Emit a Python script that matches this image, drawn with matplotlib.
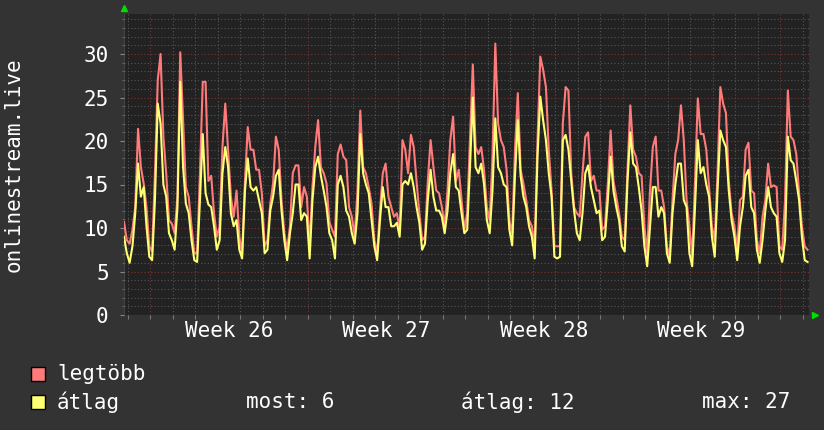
import matplotlib
matplotlib.use("Agg")
import matplotlib.pyplot as plt
from matplotlib.patches import Rectangle
import numpy as np

# ---- data (3-hourly samples, x in days from chart start) ----
step_days = 0.125
legtobb = [
    10.7, 8.6, 8.2, 9.8, 12.4, 21.4, 17.0, 15.1,
    12.4, 7.9, 7.3, 16.3, 27.0, 30.0, 20.5, 16.3,
    10.9, 10.5, 9.4, 13.6, 30.2, 22.4, 14.7, 13.6,
    10.2, 7.1, 7.1, 16.3, 26.8, 26.8, 15.4, 16.0,
    11.7, 9.0, 10.2, 19.3, 24.3, 19.0, 13.6, 11.3,
    14.3, 9.0, 7.1, 15.4, 21.6, 19.0, 19.0, 16.7,
    16.7, 14.0, 7.9, 8.6, 12.8, 15.1, 20.5, 19.0,
    13.2, 9.4, 7.5, 10.2, 16.3, 17.2, 17.2, 12.4,
    14.7, 13.6, 7.9, 14.7, 19.3, 22.4, 17.0, 16.3,
    15.1, 10.7, 9.8, 9.0, 18.5, 19.6, 18.2, 17.8,
    12.4, 11.3, 9.0, 14.3, 23.5, 17.0, 16.3, 14.7,
    12.8, 8.6, 7.1, 12.0, 16.3, 17.4, 13.6, 12.4,
    11.3, 11.7, 9.8, 20.1, 19.0, 16.3, 20.7, 19.3,
    15.4, 11.7, 8.6, 9.0, 15.4, 20.1, 17.0, 14.3,
    14.0, 12.4, 10.2, 14.3, 20.1, 22.8, 15.4, 16.7,
    13.2, 9.8, 11.7, 20.1, 28.8, 19.3, 18.5, 19.3,
    16.7, 12.4, 10.9, 18.2, 31.2, 22.0, 20.1, 19.3,
    16.7, 10.9, 9.4, 19.0, 25.5, 16.7, 15.1, 13.2,
    10.9, 10.2, 7.9, 20.1, 29.7, 28.2, 26.2, 19.0,
    14.3, 7.9, 7.9, 7.9, 22.0, 26.2, 25.8, 16.3,
    12.4, 11.7, 11.3, 16.3, 20.5, 21.0, 15.4, 16.0,
    14.3, 14.3, 9.8, 10.2, 15.1, 21.2, 15.4, 13.6,
    11.7, 9.0, 8.6, 16.7, 24.1, 19.0, 18.2, 16.3,
    16.0, 10.2, 7.1, 14.3, 19.3, 20.5, 14.3, 14.3,
    12.4, 7.9, 6.7, 13.2, 18.5, 20.1, 24.1, 20.1,
    13.2, 10.2, 6.7, 15.4, 24.9, 20.8, 20.8, 19.0,
    14.7, 10.2, 8.6, 16.3, 26.2, 24.3, 23.2, 15.4,
    11.7, 10.2, 7.5, 13.2, 13.6, 19.0, 19.8, 14.3,
    14.0, 8.6, 7.1, 11.3, 13.2, 17.4, 14.7, 14.9,
    14.7, 7.9, 7.5, 13.2, 25.8, 20.5, 20.1, 18.5,
    14.0, 10.2, 7.9, 7.5,
]
atlag = [
    9.0, 7.1, 6.0, 7.9, 11.7, 17.4, 13.6, 14.7,
    10.2, 6.7, 6.3, 13.2, 24.3, 22.0, 15.0, 13.6,
    9.4, 8.6, 7.5, 12.4, 26.8, 17.0, 12.8, 11.7,
    8.6, 6.3, 6.1, 13.2, 20.8, 14.0, 12.7, 12.4,
    10.2, 7.5, 8.6, 16.3, 19.3, 17.0, 11.7, 10.2,
    10.9, 7.5, 6.5, 14.3, 18.0, 14.7, 14.3, 14.7,
    13.2, 11.7, 7.1, 7.5, 12.0, 13.6, 16.0, 16.7,
    12.0, 8.6, 6.3, 9.4, 11.7, 15.0, 15.0, 10.9,
    11.7, 11.3, 6.5, 13.2, 17.0, 18.2, 16.0, 14.3,
    12.4, 9.4, 8.6, 6.5, 15.0, 16.0, 14.7, 12.0,
    11.3, 9.4, 8.2, 11.7, 20.8, 16.3, 15.0, 14.0,
    10.9, 7.9, 6.3, 10.9, 14.7, 12.4, 12.4, 10.2,
    10.2, 10.6, 9.0, 15.0, 15.4, 15.0, 16.3, 14.7,
    12.4, 10.6, 7.5, 8.2, 13.2, 16.7, 13.6, 12.0,
    12.0, 11.3, 9.4, 12.0, 16.3, 18.5, 14.7, 14.3,
    11.7, 9.4, 9.8, 17.0, 25.0, 17.0, 16.3, 17.4,
    15.0, 10.9, 9.4, 14.3, 22.6, 17.0, 16.3, 15.0,
    14.7, 9.8, 8.0, 16.0, 22.4, 16.0, 13.6, 12.4,
    10.2, 9.0, 6.5, 18.2, 25.1, 22.4, 20.1, 16.3,
    13.6, 6.7, 6.5, 6.7, 20.1, 20.7, 19.0, 15.4,
    12.0, 9.4, 8.6, 11.7, 16.3, 17.2, 14.7, 13.2,
    11.7, 12.0, 8.6, 9.0, 13.2, 18.2, 14.3, 12.4,
    10.9, 7.9, 7.3, 15.4, 21.0, 17.4, 17.0, 14.7,
    12.0, 7.9, 5.6, 10.2, 14.7, 14.7, 11.3, 12.4,
    11.7, 7.1, 6.0, 11.7, 15.0, 17.4, 17.4, 13.2,
    12.4, 7.1, 5.6, 12.4, 20.1, 16.3, 17.0, 15.0,
    13.6, 9.0, 6.7, 14.3, 21.2, 20.1, 19.3, 14.3,
    10.9, 9.0, 6.3, 10.2, 12.4, 16.0, 16.7, 12.4,
    11.7, 7.5, 6.0, 8.6, 12.0, 14.7, 12.4, 11.7,
    11.3, 7.1, 6.1, 8.6, 20.5, 17.8, 17.4, 15.4,
    13.2, 9.0, 6.3, 6.1,
]
y_ticks = [0, 5, 10, 15, 20, 25, 30]
week_labels = ["Week 26", "Week 27", "Week 28", "Week 29"]
first_midnight = 1.156   # days from chart start to first Monday 00:00
n_days_span = 30.44
legend_names = ["legtöbb", "átlag"]
stats_text = ["most: 6", "átlag: 12", "max: 27"]
ylabel = "onlinestream.live"

# ---- style ----
BG = "#333333"
CANVAS = "#222222"
RED = "#ff7b7b"
YEL = "#ffff73"
MINOR = "#555555"
MAJOR = "#7a3434"
FONT = "DejaVu Sans Mono"
FS = 15

W, H = 824, 430
fig = plt.figure(figsize=(W / 100, H / 100), dpi=100, facecolor=BG)
left, right, top, bottom = 124, 809, 14, 315
ax = fig.add_axes([left / W, (H - bottom) / H, (right - left) / W, (bottom - top) / H])
ax.set_facecolor(CANVAS)
ymax = (bottom - top) / 8.7
ax.set_xlim(0, n_days_span)
ax.set_ylim(0, ymax)
for s in ax.spines.values():
    s.set_visible(False)

# grid
day_lines = np.arange(first_midnight - 1, n_days_span, 1.0)
day_lines = day_lines[day_lines > 0.05]
week_lines = first_midnight + 7 * np.arange(5)
for d in day_lines:
    is_week = np.any(np.isclose(d, week_lines))
    ax.axvline(d, color=MAJOR if is_week else MINOR, lw=0.8,
               linestyle=(0, (1, 2)), zorder=1)
for v in np.arange(1, int(ymax) + 1):
    ax.axhline(v, color=MAJOR if v % 5 == 0 else MINOR, lw=0.8,
               linestyle=(0, (1, 2)), zorder=1)
ax.axhline(0, color=MINOR, lw=0.8, linestyle=(0, (1, 2)), zorder=1)
ax.axvline(0, color="#444444", lw=1.5, zorder=1)

# data
x = np.arange(len(legtobb)) * step_days
ax.plot(x, legtobb, color=RED, lw=1.5, zorder=3)
ax.plot(np.arange(len(atlag)) * step_days, atlag, color=YEL, lw=1.5, zorder=4)

# ticks
ax.set_yticks(y_ticks)
ax.set_yticklabels([str(t) for t in y_ticks], fontfamily=FONT, fontsize=FS, color="white")
ax.tick_params(axis="y", length=3, width=0.8, color="#888888", pad=8)
ax.set_yticks(np.arange(1, int(ymax) + 1), minor=True)
ax.tick_params(axis="y", which="minor", length=1.5, width=0.8, color="#666666")
week_centres = week_lines[:4] + 3.5
ax.set_xticks(week_centres)
ax.set_xticklabels(week_labels, fontfamily=FONT, fontsize=FS, color="white")
ax.tick_params(axis="x", length=0, pad=4)
ax.set_xticks(day_lines, minor=True)
ax.tick_params(axis="x", which="minor", length=3, width=0.8, color="#777777")

# arrows
ax.plot([0], [1.02], marker="^", color="#00dd00", markersize=5,
        transform=ax.transAxes, clip_on=False, zorder=5)
ax.plot([1.009], [0], marker=">", color="#00dd00", markersize=5,
        transform=ax.transAxes, clip_on=False, zorder=5)

# y label
fig.text(14 / W, 1 - 165 / H, ylabel, rotation=90, ha="center", va="center",
         fontfamily=FONT, fontsize=FS, color="white")

# legend
for name, col, yc in zip(legend_names, [RED, YEL], [374, 402]):
    fig.add_artist(Rectangle((31 / W, 1 - (yc + 7) / H), 14 / W, 14 / H,
                             facecolor=col, edgecolor="black", lw=1,
                             transform=fig.transFigure))
    fig.text(57 / W, 1 - yc / H, name, ha="left", va="center",
             fontfamily=FONT, fontsize=FS, color="white")
for txt, xs in zip(stats_text, [246, 461, 702]):
    fig.text(xs / W, 1 - 402 / H, txt, ha="left", va="center",
             fontfamily=FONT, fontsize=FS, color="white")

fig.savefig("out.png", dpi=100, facecolor=BG)
